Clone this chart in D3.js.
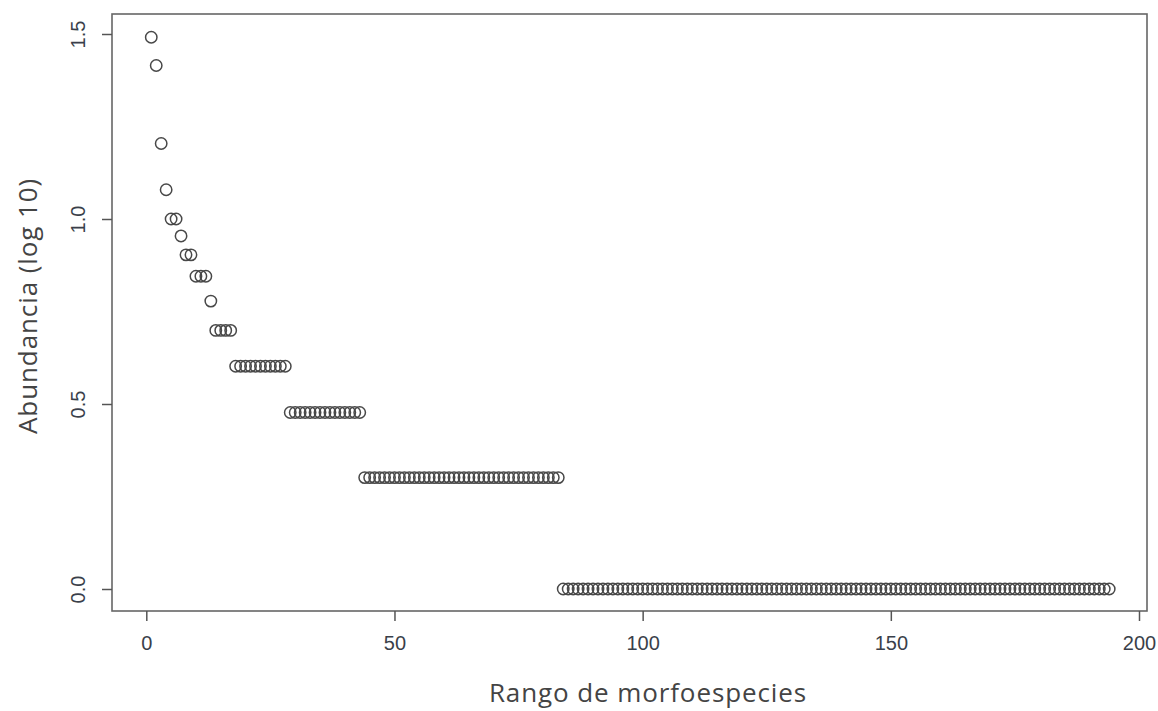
<!DOCTYPE html>
<html>
<head>
<meta charset="utf-8">
<script src="https://cdn.jsdelivr.net/npm/d3@7"></script>
<style>
  html, body { margin: 0; padding: 0; background: #fff; }
  svg { display: block; }
  .tick text { font-family: "Liberation Sans", Arial, sans-serif; font-size: 20px; fill: #3a3f4a; }
  .title { font-family: "Open Sans", sans-serif; font-size: 26px; letter-spacing: 0.9px; fill: #444; }
</style>
</head>
<body>
<div id="chart"></div>
<script>
// abundance groups: counts per species, and how many species share each count (rank order)
var abundance = [31, 26, 16, 12, 10, 9, 8, 7, 6, 5, 4, 3, 2, 1];
var species   = [ 1,  1,  1,  1,  2, 1, 2, 3, 1, 4, 11, 15, 40, 111];
var xTicks = [0, 50, 100, 150, 200];
var yTicks = [0, 0.5, 1.0, 1.5];

// expand to rank order (rank 1..194), y = log10(abundance)
var points = [];
abundance.forEach(function (a, i) {
    for (var k = 0; k < species[i]; k++) {
        points.push({ rank: points.length + 1, value: Math.log10(a) });
    }
});

var W = 1158, H = 711;
var box = { left: 112, right: 1147, top: 14, bottom: 611 };

var svg = d3.select('#chart').append('svg')
    .attr('width', W).attr('height', H);

var x = d3.scaleLinear().domain([0, 200]).range([146.3, 1139]);
var y = d3.scaleLinear().domain([0, 1.5]).range([589, 34]);

// points
svg.append('g').selectAll('circle')
    .data(points)
    .enter().append('circle')
    .attr('cx', function (d) { return x(d.rank); })
    .attr('cy', function (d) { return y(d.value); })
    .attr('r', 5.7)
    .attr('fill', 'none')
    .attr('stroke', '#484848')
    .attr('stroke-width', 1.5);

// frame
svg.append('rect')
    .attr('x', box.left).attr('y', box.top)
    .attr('width', box.right - box.left).attr('height', box.bottom - box.top)
    .attr('fill', 'none').attr('stroke', '#666').attr('stroke-width', 1.6);

// x axis
var xAxis = svg.append('g')
    .attr('transform', 'translate(0,' + box.bottom + ')')
    .call(d3.axisBottom(x).tickValues(xTicks).tickSize(10).tickPadding(15).tickFormat(d3.format('d')));
xAxis.select('.domain').remove();
xAxis.selectAll('.tick line').attr('stroke', '#555').attr('stroke-width', 1.5);

// y axis, labels rotated like R
var yAxis = svg.append('g')
    .attr('transform', 'translate(' + box.left + ',0)')
    .call(d3.axisLeft(y).tickValues(yTicks).tickSize(10).tickFormat(d3.format('.1f')));
yAxis.select('.domain').remove();
yAxis.selectAll('.tick line').attr('stroke', '#555').attr('stroke-width', 1.5);
yAxis.selectAll('.tick text')
    .attr('x', null)
    .attr('text-anchor', 'middle')
    .attr('transform', 'translate(-24,0) rotate(-90)')
    .attr('dy', '-0.15em');

// titles
svg.append('text').attr('class', 'title')
    .attr('x', 648).attr('y', 702)
    .attr('text-anchor', 'middle')
    .text('Rango de morfoespecies');

svg.append('text').attr('class', 'title')
    .attr('transform', 'translate(37,306) rotate(-90)')
    .attr('text-anchor', 'middle')
    .text('Abundancia (log 10)');
</script>
</body>
</html>
